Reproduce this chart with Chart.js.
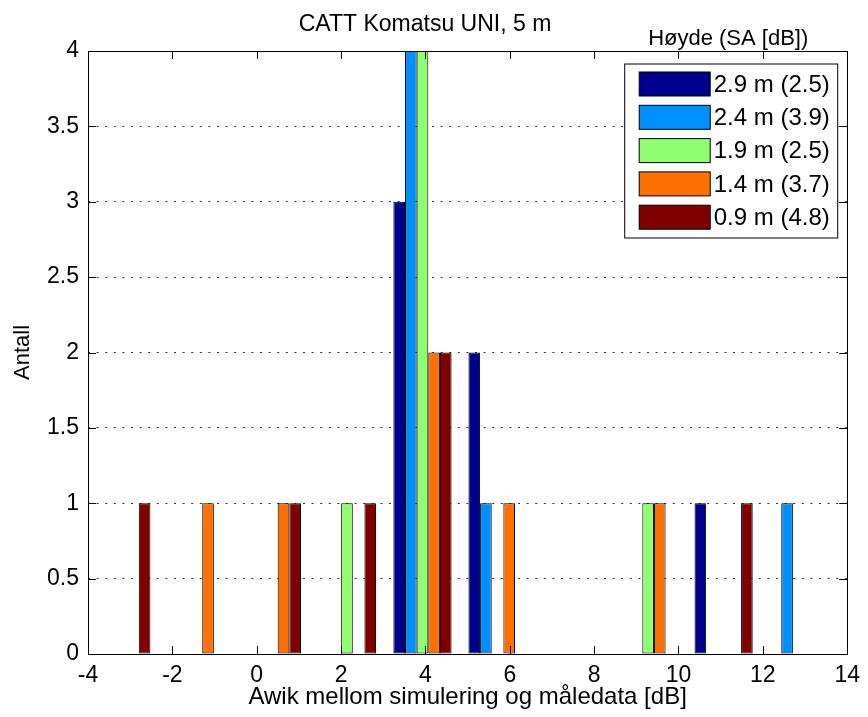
<!DOCTYPE html>
<html>
<head>
<meta charset="utf-8">
<script src="https://cdn.jsdelivr.net/npm/chart.js@4.4.0/dist/chart.umd.min.js"></script>
<style>
  html, body { margin: 0; padding: 0; background: #fff; }
  #wrap { width: 868px; height: 717px; }
</style>
</head>
<body>
<div id="wrap"><canvas id="chartCanvas" width="868" height="717"></canvas></div>
<script>
// Histogram bin centres (dB) and counts per height
const binCenters = [-3.21, -1.43, 0.36, 2.14, 3.93, 5.71, 7.50, 9.28, 11.07, 12.85];
const seriesLabels = ['2.9 m (2.5)', '2.4 m (3.9)', '1.9 m (2.5)', '1.4 m (3.7)', '0.9 m (4.8)'];
const seriesColors = ['#00008f', '#008fff', '#8fff70', '#ff7000', '#800000'];
const counts29 = [0, 0, 0, 0, 3, 2, 0, 0, 1, 0];
const counts24 = [0, 0, 0, 0, 4, 1, 0, 0, 0, 1];
const counts19 = [0, 0, 0, 1, 4, 0, 0, 1, 0, 0];
const counts14 = [0, 1, 1, 0, 2, 1, 0, 1, 0, 0];
const counts09 = [1, 0, 1, 1, 2, 0, 0, 0, 1, 0];
const xTicks = [-4, -2, 0, 2, 4, 6, 8, 10, 12, 14];
const yTicks = [0, 0.5, 1, 1.5, 2, 2.5, 3, 3.5, 4];

const FONT = "'Liberation Sans', Arial, sans-serif";
const allCounts = [counts29, counts24, counts19, counts14, counts09];

// zero counts become null so nothing is drawn there
function toPoints(counts) {
    return binCenters.map(function(x, i) {
        return { x: x, y: counts[i] === 0 ? null : counts[i] };
    });
}

// MATLAB-style box with inward tick marks
const boxPlugin = {
    id: 'boxPlugin',
    afterDatasetsDraw: function(chart) {
        const ctx = chart.ctx;
        const a = chart.chartArea;
        const xs = chart.scales.x, ys = chart.scales.y;
        const len = 8;
        ctx.save();
        ctx.strokeStyle = '#000';
        ctx.lineWidth = 1;
        ctx.beginPath();
        xTicks.forEach(function(v) {
            const px = Math.round(xs.getPixelForValue(v)) + 0.5;
            ctx.moveTo(px, a.bottom); ctx.lineTo(px, a.bottom - len);
            ctx.moveTo(px, a.top); ctx.lineTo(px, a.top + len);
        });
        yTicks.forEach(function(v) {
            const py = Math.round(ys.getPixelForValue(v)) + 0.5;
            ctx.moveTo(a.left, py); ctx.lineTo(a.left + len, py);
            ctx.moveTo(a.right, py); ctx.lineTo(a.right - len, py);
        });
        ctx.stroke();
        ctx.strokeRect(Math.round(a.left) + 0.5, Math.round(a.top) + 0.5,
            Math.round(a.right - a.left), Math.round(a.bottom - a.top));
        ctx.restore();
    }
};

// legend drawn inside the plot, top right, with a title above the axes
const legendPlugin = {
    id: 'insideLegend',
    afterDraw: function(chart) {
        const ctx = chart.ctx;
        const a = chart.chartArea;
        const boxX = a.right - 222.5, boxY = a.top + 13;
        const boxW = 213, boxH = 174;
        ctx.save();
        ctx.fillStyle = '#fff';
        ctx.fillRect(boxX, boxY, boxW, boxH);
        ctx.strokeStyle = '#000';
        ctx.lineWidth = 1;
        ctx.strokeRect(boxX, boxY, boxW, boxH);
        ctx.font = '24px ' + FONT;
        ctx.textBaseline = 'middle';
        chart.data.datasets.forEach(function(ds, i) {
            const sy = boxY + 8 + i * 33.3;
            ctx.fillStyle = ds.backgroundColor;
            ctx.fillRect(boxX + 14.5, sy, 71, 24);
            ctx.strokeRect(boxX + 14.5, sy, 71, 24);
            ctx.fillStyle = '#000';
            ctx.textAlign = 'left';
            ctx.fillText(ds.label, boxX + 89, sy + 13);
        });
        ctx.font = '22px ' + FONT;
        ctx.textAlign = 'center';
        ctx.fillText('Høyde (SA [dB])', boxX + boxW / 2 - 3, a.top - 12);
        ctx.restore();
    }
};

var ctx = document.getElementById('chartCanvas').getContext('2d');
var histChart = new Chart(ctx, {
    type: 'bar',
    data: {
        datasets: seriesLabels.map(function(label, i) {
            return {
                label: label,
                data: toPoints(allCounts[i]),
                backgroundColor: seriesColors[i],
                borderColor: '#000',
                borderWidth: 1,
                borderSkipped: false,
                categoryPercentage: 0.775,
                barPercentage: 1.0
            };
        })
    },
    options: {
        responsive: false,
        animation: false,
        layout: { padding: { left: 0, right: 18, top: 0, bottom: 0 } },
        plugins: {
            legend: { display: false },
            tooltip: { enabled: false },
            title: {
                display: true,
                text: 'CATT Komatsu UNI, 5 m',
                color: '#000',
                font: { family: FONT, size: 23, weight: 'normal' },
                padding: { top: 11, bottom: 12.4 }
            }
        },
        scales: {
            x: {
                type: 'linear',
                min: -4,
                max: 14,
                offset: false,
                afterFit: function(scale) { scale.height = 63; },
                grid: { display: false, drawTicks: false, offset: false },
                border: { display: false },
                afterBuildTicks: function(scale) {
                    scale.ticks = xTicks.map(function(v) { return { value: v }; });
                },
                ticks: {
                    color: '#000',
                    padding: 8,
                    maxRotation: 0,
                    font: { family: FONT, size: 23 },
                    callback: function(v) { return String(v); }
                },
                title: {
                    display: true,
                    text: 'Awik mellom simulering og måledata [dB]',
                    color: '#000',
                    font: { family: FONT, size: 24 },
                    padding: { top: 0, bottom: 5 }
                }
            },
            y: {
                min: 0,
                max: 4,
                afterFit: function(scale) { scale.width = 88; },
                afterBuildTicks: function(scale) {
                    scale.ticks = yTicks.map(function(v) { return { value: v }; });
                },
                grid: {
                    drawTicks: false,
                    color: function(c) {
                        const v = c.tick ? c.tick.value : 0;
                        return (v === 0 || v === 4) ? 'rgba(0,0,0,0)' : '#333';
                    },
                    lineWidth: 1
                },
                border: { display: false, dash: [2, 6.6] },
                ticks: {
                    color: '#000',
                    padding: 9,
                    font: { family: FONT, size: 23 },
                    callback: function(v) { return String(v); }
                },
                title: {
                    display: true,
                    text: 'Antall',
                    color: '#000',
                    font: { family: FONT, size: 22 },
                    padding: { top: 10, bottom: 0 }
                }
            }
        }
    },
    plugins: [boxPlugin, legendPlugin]
});
</script>
</body>
</html>
